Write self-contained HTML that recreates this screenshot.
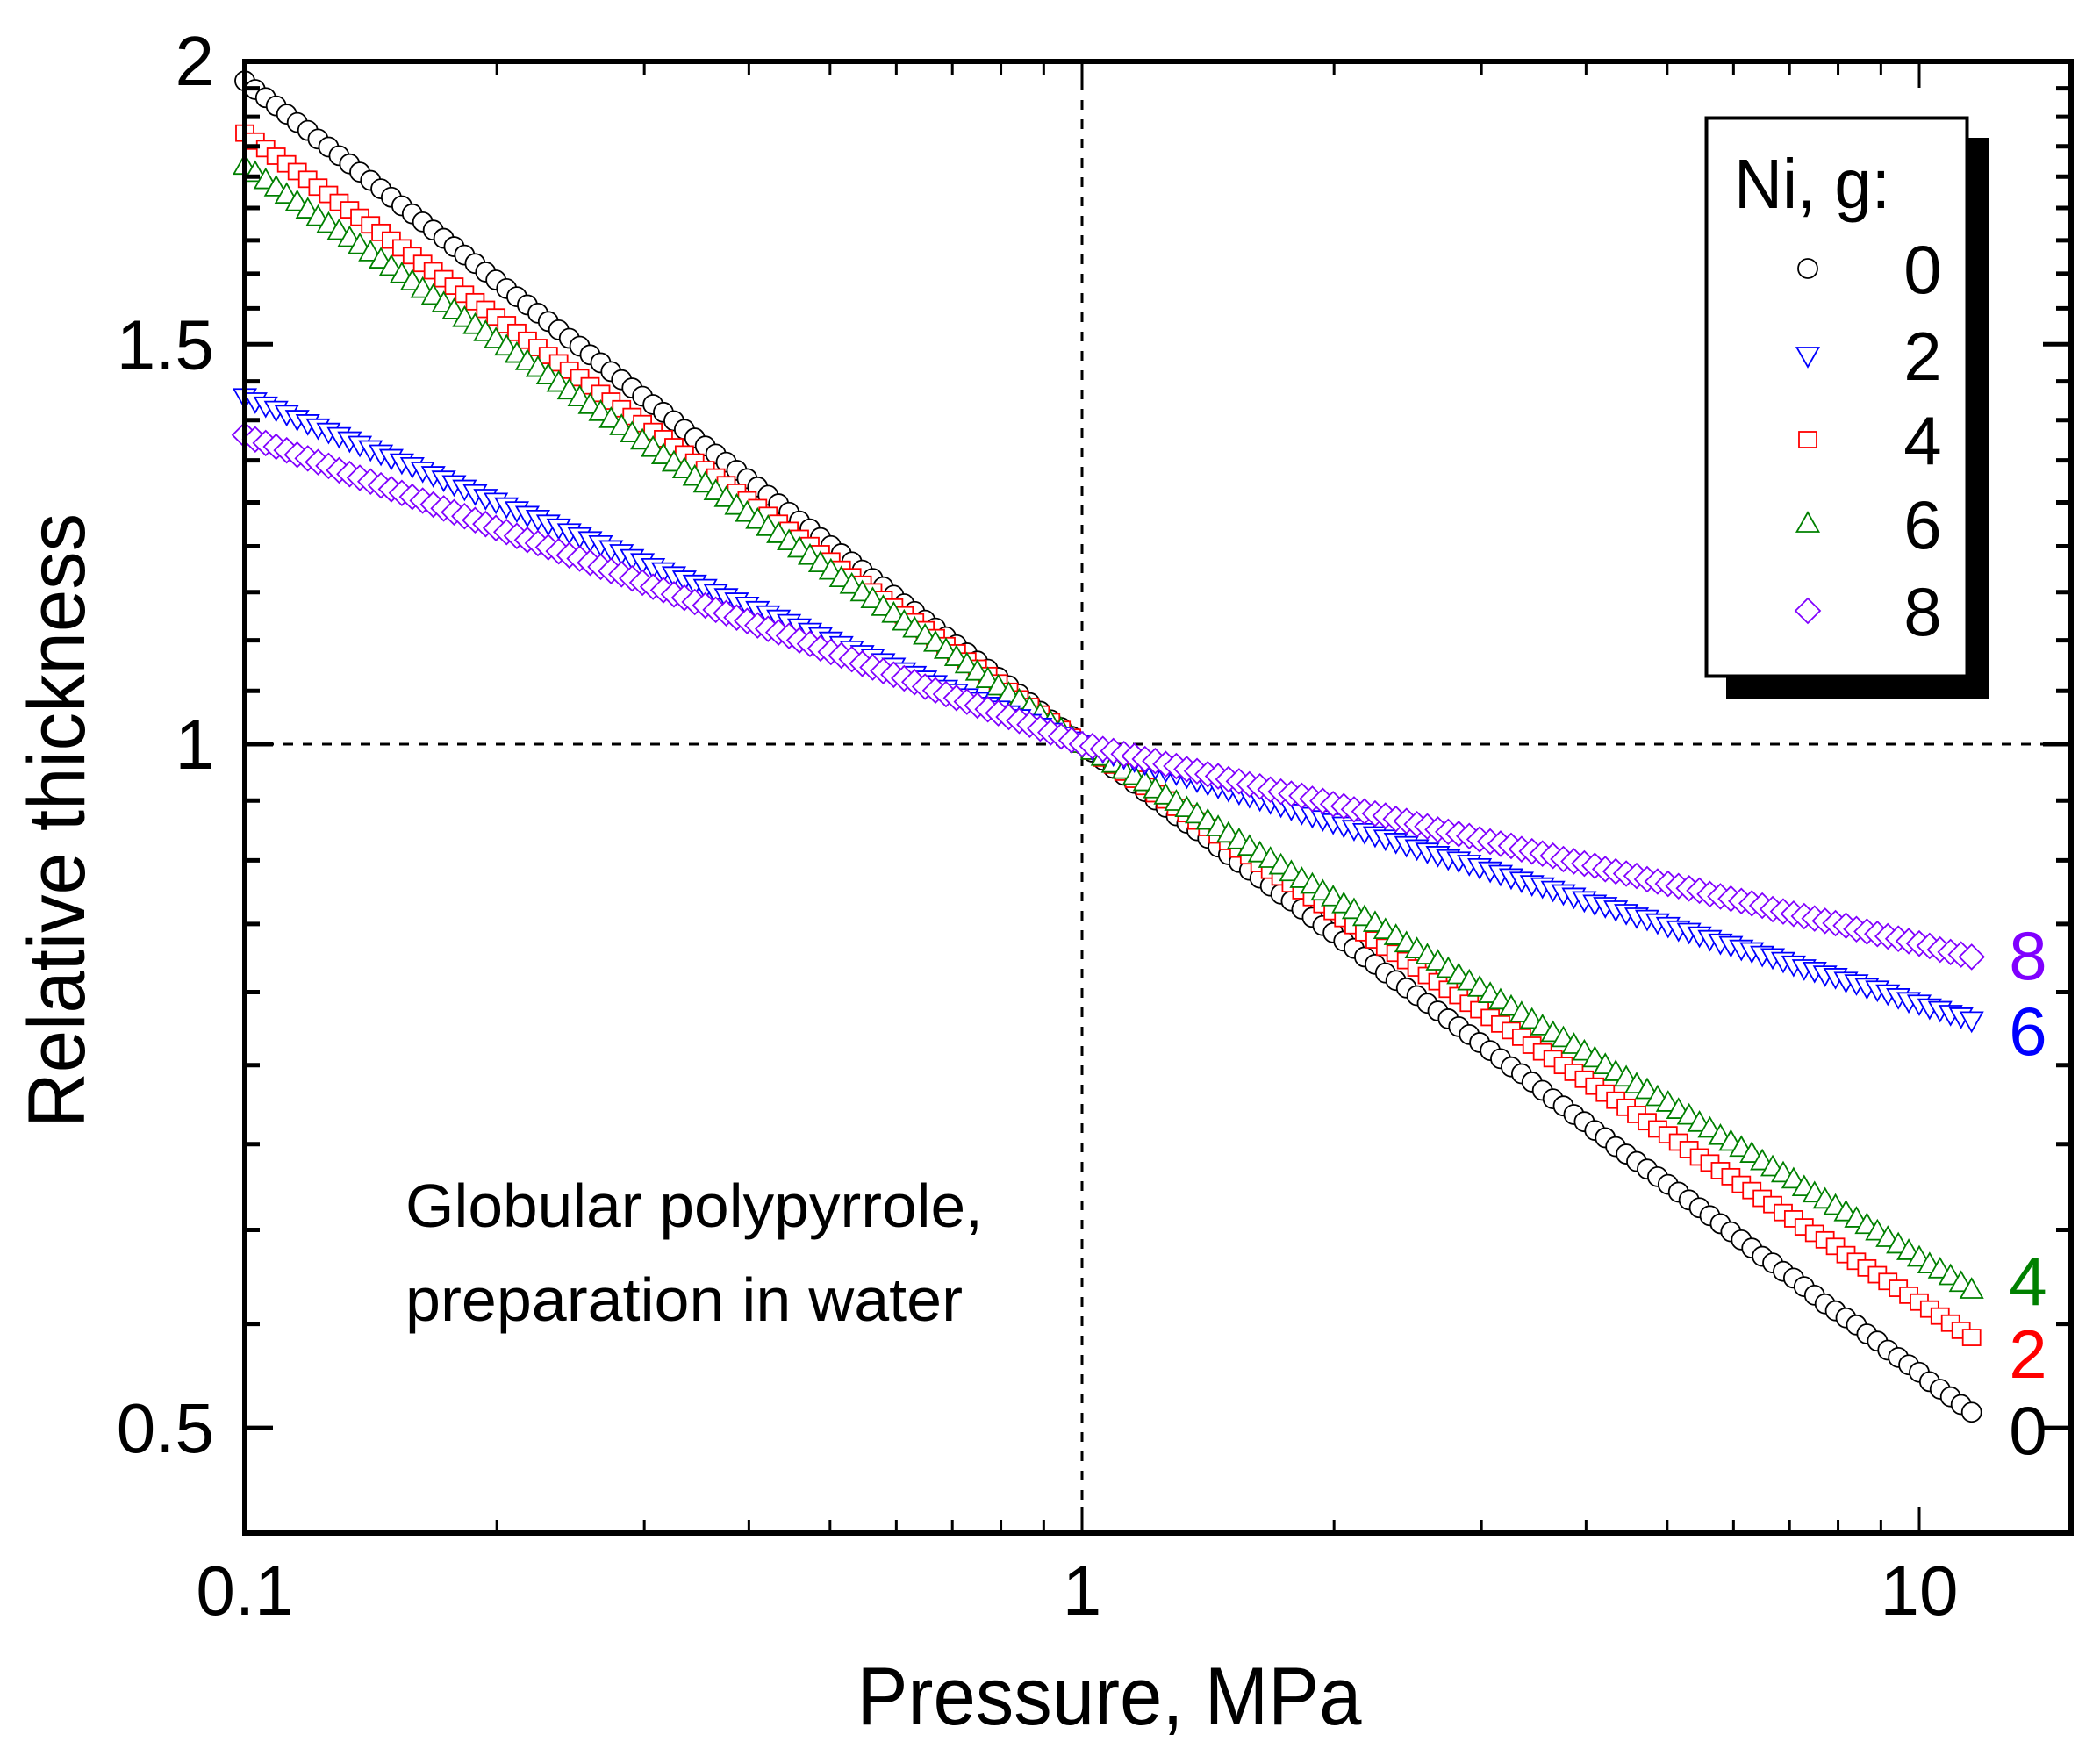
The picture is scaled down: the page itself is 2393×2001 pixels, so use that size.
<!DOCTYPE html>
<html><head><meta charset="utf-8"><style>
html,body{margin:0;padding:0;background:#fff;}
svg{display:block;font-family:"Liberation Sans",Arial,sans-serif;}
</style></head><body>
<svg id="chart" width="2393" height="2001" viewBox="0 0 2393 2001" xmlns="http://www.w3.org/2000/svg">
<rect x="0" y="0" width="2393" height="2001" fill="#fff"/>
<g id="refs"></g>
<g id="series"></g>
<g id="axes"></g>
<text transform="translate(96,935) rotate(-90)" text-anchor="middle" font-size="92" textLength="700" lengthAdjust="spacingAndGlyphs">Relative thickness</text>
<text x="1264" y="1965" text-anchor="middle" font-size="94" textLength="575" lengthAdjust="spacingAndGlyphs">Pressure, MPa</text>
<text x="462" y="1398" font-size="70" textLength="658" lengthAdjust="spacingAndGlyphs">Globular polypyrrole,</text>
<text x="462" y="1505" font-size="70" textLength="635" lengthAdjust="spacingAndGlyphs">preparation in water</text>
<g>
<rect x="1967" y="157" width="300" height="639" fill="#000"/>
<rect x="1944.5" y="134.5" width="297" height="636" fill="#fff" stroke="#000" stroke-width="4"/>
<text x="1976" y="237" font-size="80" textLength="178" lengthAdjust="spacingAndGlyphs">Ni, g:</text>
<g id="legend-entries"></g>
</g>
<g id="endlabels" font-size="78" text-anchor="middle">
<text x="2311" y="1116" fill="#8000ff">8</text>
<text x="2311" y="1202" fill="#0000ff">6</text>
<text x="2311" y="1487" fill="#008000">4</text>
<text x="2311" y="1570" fill="#ff0000">2</text>
<text x="2311" y="1657" fill="#000">0</text>
</g>
</svg>
<script>
const pressure = [0.1,0.1029,0.1059,0.1090,0.1122,0.1155,0.1189,0.1223,0.1259,0.1296,0.1334,0.1372,0.1413,0.1454,0.1496,0.1540,0.1585,0.1631,0.1679,0.1728,0.1778,0.1830,0.1884,0.1939,0.1995,0.2054,0.2113,0.2175,0.2239,0.2304,0.2371,0.2441,0.2512,0.2585,0.2661,0.2738,0.2818,0.2901,0.2985,0.3073,0.3162,0.3255,0.3350,0.3447,0.3548,0.3652,0.3758,0.3868,0.3981,0.4097,0.4217,0.4340,0.4467,0.4597,0.4732,0.4870,0.5012,0.5158,0.5309,0.5464,0.5623,0.5788,0.5957,0.6131,0.6310,0.6494,0.6683,0.6879,0.7079,0.7286,0.7499,0.7718,0.7943,0.8175,0.8414,0.8660,0.8913,0.9173,0.9441,0.9716,1,
1.029,1.059,1.090,1.122,1.155,1.189,1.223,1.259,1.296,1.334,1.372,1.413,1.454,1.496,1.540,1.585,1.631,1.679,1.728,1.778,1.830,1.884,1.939,1.995,2.054,2.113,2.175,2.239,2.304,2.371,2.441,2.512,2.585,2.661,2.738,2.818,2.901,2.985,3.073,3.162,3.255,3.350,3.447,3.548,3.652,3.758,3.868,3.981,4.097,4.217,4.340,4.467,4.597,4.732,4.870,5.012,5.158,5.309,5.464,5.623,5.788,5.957,6.131,6.310,6.494,6.683,6.879,7.079,7.286,7.499,7.718,7.943,8.175,8.414,8.660,8.913,9.173,9.441,9.716,10,10.29,10.59,10.90,11.22,11.55];
const ni0 = [1.959,1.942,1.926,1.910,1.894,1.878,1.863,1.847,1.832,1.816,1.801,1.786,1.771,1.756,1.741,1.726,1.712,1.698,1.684,1.670,1.656,1.642,1.628,1.614,1.601,1.587,1.574,1.561,1.548,1.535,1.522,1.509,1.497,1.484,1.472,1.459,1.447,1.435,1.423,1.411,1.400,1.388,1.376,1.364,1.353,1.342,1.331,1.320,1.309,1.298,1.287,1.276,1.265,1.254,1.244,1.233,1.223,1.213,1.203,1.193,1.183,1.173,1.163,1.153,1.144,1.134,1.125,1.115,1.106,1.097,1.088,1.079,1.070,1.061,1.052,1.043,1.034,1.025,1.017,1.008,1.000,
0.992,0.984,0.976,0.969,0.961,0.953,0.945,0.938,0.930,0.923,0.916,0.909,0.901,0.894,0.887,0.880,0.873,0.866,0.859,0.853,0.846,0.839,0.832,0.826,0.819,0.813,0.806,0.800,0.793,0.787,0.781,0.775,0.769,0.763,0.757,0.751,0.745,0.739,0.733,0.727,0.721,0.716,0.710,0.704,0.698,0.693,0.687,0.682,0.676,0.671,0.665,0.660,0.655,0.650,0.645,0.640,0.635,0.630,0.625,0.620,0.615,0.610,0.605,0.600,0.595,0.591,0.586,0.582,0.577,0.572,0.567,0.563,0.559,0.555,0.550,0.546,0.541,0.537,0.533,0.529,0.524,0.520,0.516,0.512,0.508];
const ni4 = [1.858,1.843,1.829,1.815,1.801,1.787,1.773,1.759,1.746,1.732,1.719,1.706,1.693,1.680,1.667,1.654,1.641,1.628,1.616,1.603,1.591,1.578,1.566,1.554,1.542,1.530,1.518,1.506,1.495,1.483,1.472,1.461,1.450,1.438,1.427,1.416,1.405,1.394,1.384,1.373,1.363,1.352,1.342,1.331,1.321,1.311,1.301,1.291,1.281,1.271,1.261,1.251,1.242,1.232,1.223,1.213,1.204,1.194,1.185,1.176,1.167,1.158,1.149,1.140,1.132,1.123,1.114,1.105,1.097,1.088,1.080,1.072,1.064,1.055,1.047,1.039,1.031,1.023,1.015,1.007,1.000,
0.993,0.986,0.979,0.972,0.965,0.958,0.951,0.945,0.938,0.932,0.925,0.919,0.912,0.906,0.899,0.893,0.886,0.880,0.874,0.868,0.862,0.856,0.850,0.844,0.838,0.832,0.826,0.820,0.814,0.809,0.803,0.797,0.791,0.786,0.780,0.775,0.769,0.764,0.758,0.753,0.748,0.743,0.737,0.732,0.727,0.722,0.717,0.712,0.707,0.702,0.697,0.692,0.687,0.682,0.677,0.673,0.668,0.663,0.658,0.654,0.649,0.645,0.640,0.636,0.631,0.627,0.622,0.618,0.613,0.609,0.605,0.601,0.596,0.592,0.588,0.584,0.580,0.576,0.572,0.568,0.564,0.560,0.556,0.552,0.548];
const ni6 = [1.797,1.784,1.771,1.758,1.745,1.732,1.719,1.706,1.694,1.682,1.670,1.658,1.646,1.634,1.622,1.610,1.598,1.586,1.575,1.563,1.552,1.540,1.529,1.518,1.507,1.496,1.485,1.474,1.464,1.453,1.442,1.431,1.421,1.410,1.400,1.390,1.380,1.370,1.360,1.350,1.340,1.330,1.321,1.311,1.302,1.292,1.283,1.273,1.264,1.255,1.246,1.237,1.228,1.219,1.210,1.201,1.192,1.183,1.175,1.166,1.158,1.149,1.141,1.132,1.124,1.116,1.108,1.100,1.092,1.084,1.076,1.068,1.060,1.052,1.045,1.037,1.030,1.022,1.015,1.007,1.000,
0.993,0.987,0.980,0.974,0.968,0.962,0.955,0.949,0.943,0.937,0.931,0.925,0.919,0.913,0.907,0.901,0.895,0.890,0.884,0.878,0.872,0.867,0.861,0.856,0.850,0.845,0.839,0.834,0.828,0.823,0.817,0.812,0.807,0.802,0.796,0.791,0.786,0.781,0.776,0.771,0.766,0.761,0.756,0.751,0.746,0.742,0.737,0.732,0.727,0.722,0.717,0.713,0.708,0.704,0.699,0.695,0.690,0.686,0.681,0.677,0.672,0.668,0.664,0.660,0.655,0.651,0.647,0.643,0.638,0.634,0.630,0.626,0.622,0.618,0.614,0.610,0.606,0.602,0.598,0.594,0.590,0.587,0.583,0.579,0.575];
const ni2 = [1.422,1.416,1.410,1.404,1.398,1.391,1.385,1.379,1.373,1.367,1.361,1.355,1.349,1.343,1.337,1.331,1.326,1.320,1.314,1.308,1.302,1.296,1.290,1.284,1.279,1.273,1.268,1.262,1.257,1.251,1.246,1.240,1.235,1.230,1.225,1.219,1.214,1.208,1.203,1.197,1.192,1.187,1.182,1.177,1.172,1.166,1.161,1.156,1.151,1.146,1.141,1.136,1.131,1.126,1.121,1.116,1.111,1.106,1.101,1.096,1.092,1.087,1.082,1.077,1.073,1.068,1.063,1.058,1.054,1.049,1.045,1.040,1.036,1.031,1.027,1.022,1.018,1.013,1.009,1.004,1.000,
0.996,0.993,0.990,0.987,0.984,0.981,0.977,0.974,0.971,0.968,0.964,0.961,0.958,0.955,0.952,0.949,0.946,0.943,0.940,0.937,0.933,0.930,0.927,0.924,0.921,0.918,0.915,0.912,0.909,0.906,0.903,0.900,0.897,0.894,0.891,0.889,0.886,0.883,0.880,0.877,0.874,0.871,0.868,0.866,0.863,0.860,0.857,0.854,0.851,0.849,0.846,0.843,0.840,0.838,0.835,0.832,0.829,0.827,0.824,0.821,0.818,0.816,0.813,0.811,0.808,0.806,0.803,0.800,0.797,0.795,0.792,0.790,0.787,0.785,0.782,0.780,0.777,0.774,0.771,0.769,0.766,0.764,0.761,0.759,0.756];
const ni8 = [1.368,1.362,1.357,1.352,1.347,1.341,1.336,1.331,1.326,1.320,1.315,1.310,1.305,1.300,1.295,1.290,1.285,1.280,1.275,1.270,1.265,1.260,1.255,1.250,1.245,1.240,1.235,1.230,1.226,1.221,1.216,1.211,1.207,1.202,1.197,1.192,1.188,1.183,1.178,1.173,1.169,1.164,1.160,1.155,1.151,1.146,1.142,1.137,1.133,1.128,1.124,1.120,1.116,1.111,1.107,1.102,1.098,1.094,1.090,1.085,1.081,1.077,1.073,1.069,1.065,1.060,1.056,1.052,1.048,1.044,1.040,1.036,1.032,1.028,1.024,1.020,1.016,1.012,1.008,1.004,1.000,
0.998,0.995,0.993,0.990,0.988,0.985,0.983,0.980,0.978,0.975,0.973,0.970,0.968,0.965,0.963,0.960,0.958,0.955,0.953,0.951,0.949,0.946,0.944,0.941,0.939,0.936,0.934,0.932,0.930,0.927,0.925,0.922,0.920,0.917,0.915,0.913,0.911,0.908,0.906,0.904,0.902,0.899,0.897,0.895,0.893,0.890,0.888,0.886,0.884,0.881,0.879,0.877,0.875,0.872,0.870,0.868,0.866,0.864,0.862,0.859,0.857,0.855,0.853,0.851,0.849,0.846,0.844,0.842,0.840,0.838,0.836,0.834,0.832,0.829,0.827,0.825,0.823,0.821,0.819,0.817,0.815,0.812,0.810,0.808,0.806];
const xTickLabels = ["0.1","1","10"];
const xTickValues = [0.1,1,10];
const yTickLabels = ["0.5","1","1.5","2"];
const yTickValues = [0.5,1,1.5,2];
const legendLabels = ["0","2","4","6","8"];

const NS = "http://www.w3.org/2000/svg";
const L = 279, R = 2360, T = 70, B = 1747;
const xPix = p => 279 + 954 * (Math.log10(p) + 1);
const yPix = v => 848 - 1124 * Math.log(v);
function mk(tag, attrs, parent){
  const e = document.createElementNS(NS, tag);
  for (const k in attrs) e.setAttribute(k, attrs[k]);
  parent.appendChild(e);
  return e;
}
function marker(shape, x, y, color, parent){
  let e;
  if (shape === 'circle') e = mk('circle', {cx:x, cy:y, r:11}, parent);
  else if (shape === 'square') e = mk('rect', {x:x-10, y:y-9, width:20, height:18}, parent);
  else if (shape === 'down') e = mk('polygon', {points:`${x-12.5},${y-9} ${x+12.5},${y-9} ${x},${y+13}`}, parent);
  else if (shape === 'up') e = mk('polygon', {points:`${x-12.5},${y+9} ${x+12.5},${y+9} ${x},${y-13}`}, parent);
  else e = mk('polygon', {points:`${x},${y-14} ${x+14},${y} ${x},${y+14} ${x-14},${y}`}, parent);
  e.setAttribute('fill', '#fff');
  e.setAttribute('stroke', color);
  e.setAttribute('stroke-width', '1.8');
  return e;
}

const refs = document.getElementById('refs');
const vl = mk('line', {x1:xPix(1), x2:xPix(1), y1:T, y2:B, stroke:'#000', 'stroke-width':3, 'stroke-dasharray':'11 11'}, refs);


const hl = mk('line', {x1:L, x2:R, y1:yPix(1), y2:yPix(1), stroke:'#000', 'stroke-width':3, 'stroke-dasharray':'11 11'}, refs);



const seriesDefs = [
  {name:'series-ni-0', data:ni0, shape:'circle', color:'#000'},
  {name:'series-ni-2', data:ni4, shape:'square', color:'#ff0000'},
  {name:'series-ni-4', data:ni6, shape:'up', color:'#008000'},
  {name:'series-ni-6', data:ni2, shape:'down', color:'#0000ff'},
  {name:'series-ni-8', data:ni8, shape:'diamond', color:'#8000ff'}
];
const sg = document.getElementById('series');
seriesDefs.forEach(s => {
  const g = mk('g', {}, sg);
  
  
  const n = Math.min(s.data.length, pressure.length);
  for (let i = 0; i < n; i++) {
    const m = marker(s.shape, xPix(pressure[i]), yPix(s.data[i]), s.color, g);
    
    
  }
});

const ax = document.getElementById('axes');
const frame = mk('rect', {x:L, y:T, width:R-L, height:B-T, fill:'none', stroke:'#000', 'stroke-width':6}, ax);


for (let d = -1; d <= 1; d++) {
  for (let m = 1; m <= 9; m++) {
    const p = m * Math.pow(10, d);
    const x = xPix(p);
    if (x < L - 1 || x > R) continue;
    const len = m === 1 ? 30 : 15;
    const t1 = mk('line', {x1:x, x2:x, y1:B, y2:B-len, stroke:'#000', 'stroke-width':3}, ax);
    
    
    const t2 = mk('line', {x1:x, x2:x, y1:T, y2:T+len, stroke:'#000', 'stroke-width':3}, ax);
    
    
  }
}
xTickValues.forEach((v, i) => {
  const t = mk('text', {x:xPix(v), y:1840, 'text-anchor':'middle', 'font-size':80}, ax);
  t.textContent = xTickLabels[i];
  
  
});
for (let k = 9; k <= 36; k++) {
  const v = k / 18;
  const y = yPix(v);
  if (y < T || y > B) continue;
  const major = k % 9 === 0;
  const len = major ? 32 : 17;
  const t1 = mk('line', {x1:L, x2:L+len, y1:y, y2:y, stroke:'#000', 'stroke-width':5}, ax);
  
  
  const t2 = mk('line', {x1:R, x2:R-len, y1:y, y2:y, stroke:'#000', 'stroke-width':5}, ax);
  
  
}
yTickValues.forEach((v, i) => {
  const t = mk('text', {x:244, y:yPix(v)+28, 'text-anchor':'end', 'font-size':80}, ax);
  t.textContent = yTickLabels[i];
  
  
});

const le = document.getElementById('legend-entries');
const legendShapes = ['circle','down','square','up','diamond'];
const legendColors = ['#000','#0000ff','#ff0000','#008000','#8000ff'];
const legendY = [306, 405, 501, 597, 696];
legendLabels.forEach((lab, i) => {
  const g = mk('g', {}, le);
  
  
  marker(legendShapes[i], 2060, legendY[i], legendColors[i], g);
  const t = mk('text', {x:2191, y:legendY[i]+28, 'text-anchor':'middle', 'font-size':78}, g);
  t.textContent = lab;
});
</script>
</body></html>
